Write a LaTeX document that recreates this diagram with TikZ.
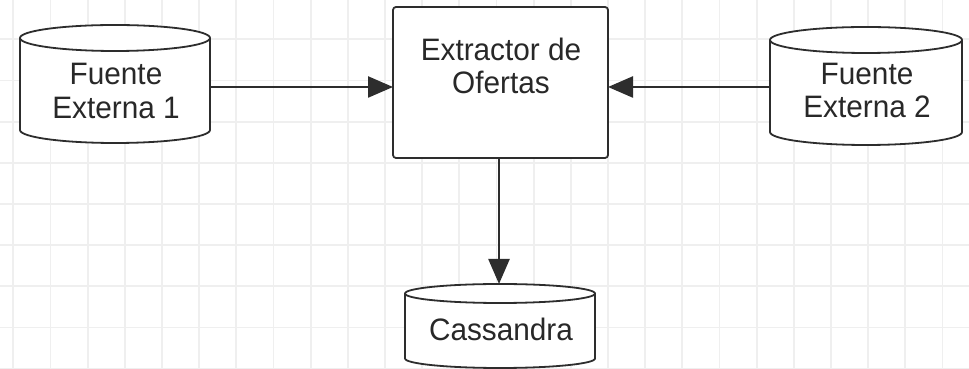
\documentclass[tikz,border=0pt]{standalone}
\usepackage{fontspec}
\setmainfont{Liberation Sans}
\usetikzlibrary{arrows.meta}
\definecolor{gridc}{RGB}{239,239,239}
\definecolor{linec}{RGB}{45,45,45}
\definecolor{textc}{RGB}{40,40,40}
\newcommand\lbl[1]{\scalebox{0.96}[1]{#1}}
\newcommand\cylout[3]{%
  \draw[shp,fill=white] ([yshift=-#3]#1.north west) -- ([yshift=#3]#1.south west)
    arc[start angle=180,end angle=360,x radius=#2,y radius=#3]
    -- ([yshift=-#3]#1.north east)
    arc[start angle=0,end angle=180,x radius=#2,y radius=#3] -- cycle;
  \draw[shp] ([yshift=-#3]#1.north west)
    arc[start angle=180,end angle=360,x radius=#2,y radius=#3];}
\tikzset{
  shp/.style={draw=linec,line width=1.8pt,line join=round},
  cylnode/.style={draw=none,inner sep=0pt,outer sep=0pt},
  boxnode/.style={shp,fill=white,rounded corners=3pt,inner sep=0pt,outer sep=0pt},
  arr/.style={draw=linec,line width=2.4pt,-{Triangle[length=25pt,width=21pt]}},
  txt/.style={anchor=base,inner sep=0pt,text=textc,font=\fontsize{31}{33}\selectfont},
  gridline/.style={draw=gridc,line width=1.8pt}
}
\begin{document}
\begin{tikzpicture}[x=1pt,y=1pt]
\useasboundingbox (0,0) rectangle (969,369);
\fill[white] (0,0) rectangle (969,369);
% grid
\foreach \k in {0,...,25} {\draw[gridline] ({13.3+\k*37.17},0) -- ({13.3+\k*37.17},369);}
\foreach \k in {0,...,8} {\draw[gridline] (0,{329.6-\k*41.15}) -- (969,{329.6-\k*41.15});}
% shapes
\node[cylnode,minimum width=190pt,minimum height=118pt] (f1) at (115,285) {};
\node[cylnode,minimum width=192pt,minimum height=118pt] (f2) at (866,283) {};
\node[cylnode,minimum width=190pt,minimum height=84pt] (cas) at (500,43) {};
\cylout{f1}{95pt}{13pt}
\cylout{f2}{96pt}{13pt}
\cylout{cas}{95pt}{9.5pt}
\node[boxnode,minimum width=215pt,minimum height=151pt] (ext) at (500.5,286.5) {};
% connectors
\draw[arr] ([yshift=-3pt]f1.east) -- ([yshift=-4.5pt]ext.west);
\draw[arr] ([yshift=-1pt]f2.west) -- ([yshift=-4.5pt]ext.east);
\draw[arr] ([xshift=-1.5pt]ext.south) -- ([xshift=-1pt]cas.north);
% texts
\node[txt] (f1a) at (116,284) {\lbl{Fuente}};
\node[txt] (f1b) at (116,250) {\lbl{Externa 1}};
\node[txt] (exa) at (501,308) {\lbl{Extractor de}};
\node[txt] (exb) at (501,275.7) {\lbl{Ofertas}};
\node[txt] (f2a) at (867,284) {\lbl{Fuente}};
\node[txt] (f2b) at (867,251) {\lbl{Externa 2}};
\node[txt] (casa) at (501,28.3) {\lbl{Cassandra}};
\end{tikzpicture}
\end{document}
